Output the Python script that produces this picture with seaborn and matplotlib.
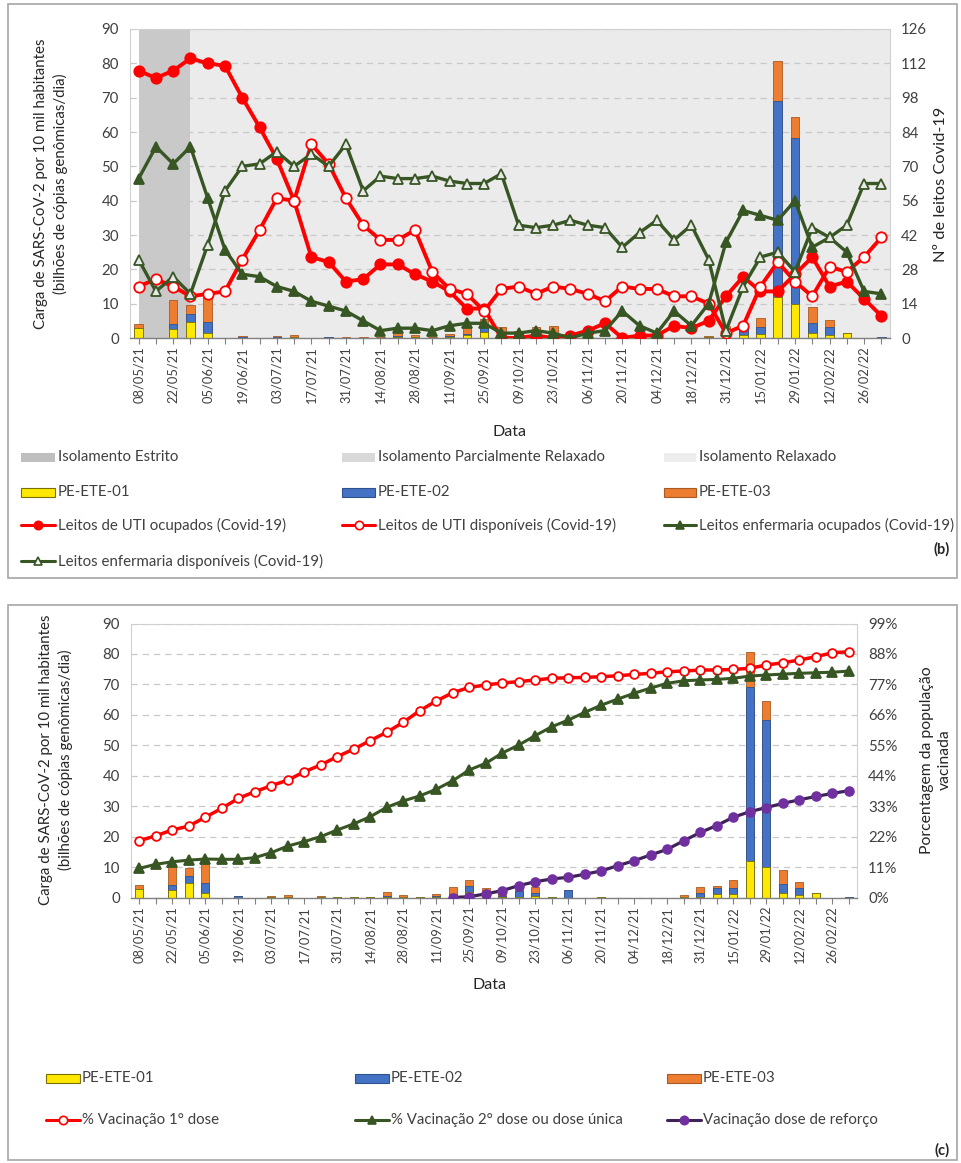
import numpy as np
import pandas as pd
import seaborn as sns
import matplotlib.pyplot as plt
from matplotlib.patches import Rectangle
from matplotlib.lines import Line2D

# ---------------- data ----------------
# weekly samples, label shown every second week
tick_labels = ['08/05/21', '22/05/21', '05/06/21', '19/06/21', '03/07/21', '17/07/21',
               '31/07/21', '14/08/21', '28/08/21', '11/09/21', '25/09/21', '09/10/21',
               '23/10/21', '06/11/21', '20/11/21', '04/12/21', '18/12/21', '31/12/21',
               '15/01/22', '29/01/22', '12/02/22', '26/02/22']

# SARS-CoV-2 load (bilhões de cópias genômicas/dia por 10 mil hab.)
ete01 = [2.8, 0, 2.6, 4.8, 1.5, 0, 0, 0, 0.1, 0.2, 0, 0.1, 0.1, 0.1, 0.1, 0.3, 0.2, 0.1, 0.3, 0.8,
         1.8, 0.3, 0.2, 0.3, 0.5, 0.1, 0, 0, 0.2, 0, 0, 0, 0, 0.2, 0.3, 1.0, 1.2, 12.0, 10.0, 1.5,
         0.9, 1.4, 0, 0]
ete02 = [0, 0, 1.4, 2.2, 3.3, 0, 0.4, 0, 0.1, 0.1, 0, 0.1, 0, 0, 0, 0.2, 0, 0, 0.2, 0.5,
         2.0, 0.2, 0.3, 1.8, 1.0, 0, 2.3, 0, 0, 0, 0, 0, 0, 0.1, 1.2, 2.0, 2.0, 57.0, 48.3, 2.8,
         2.2, 0, 0, 0.3]
ete03 = [1.2, 0, 7.0, 2.7, 7.2, 0, 0.1, 0, 0.3, 0.5, 0, 0.2, 0.1, 0.1, 0.2, 1.3, 0.7, 0.2, 0.6, 2.0,
         1.8, 2.6, 1.5, 1.1, 2.1, 0.1, 0.2, 0, 0, 0, 0, 0, 0, 0.4, 2.0, 0.8, 2.6, 11.7, 6.2, 4.6,
         2.0, 0.2, 0, 0]

# Covid-19 beds (right axis of panel b)
uti_ocup = [109, 106, 109, 114, 112, 111, 98, 86, 73, 56, 33, 31, 23, 24, 30, 30, 26, 23, 19, 12,
            12, 0, 0, 1, 0, 1, 3, 6, 0, 1, 1, 5, 4, 7, 17, 25, 19, 19, 26, 33,
            21, 23, 16, 9]
uti_disp = [21, 24, 21, 17, 18, 19, 32, 44, 57, 56, 79, 71, 57, 46, 40, 40, 44, 27, 20, 18,
            11, 20, 21, 18, 21, 20, 18, 15, 21, 20, 20, 17, 17, 14, 2, 5, 21, 31, 23, 17,
            29, 27, 33, 41]
enf_ocup = [65, 78, 71, 78, 57, 36, 26, 25, 21, 19, 15, 13, 11, 7, 3, 4, 4, 3, 5, 6,
            6, 2, 2, 3, 2, 0, 2, 3, 11, 5, 2, 11, 5, 14, 39, 52, 50, 48, 56, 37,
            41, 35, 19, 18]
enf_disp = [32, 19, 25, 18, 38, 60, 70, 71, 76, 70, 75, 70, 79, 60, 66, 65, 65, 66, 64, 63,
            63, 67, 46, 45, 46, 48, 46, 45, 37, 43, 48, 40, 46, 32, 3, 21, 33, 35, 27, 45,
            41, 46, 63, 63]

# vaccination coverage, % of population (right axis of panel c)
vac_dose1 = [20.5, 22.3, 24.4, 25.8, 29.0, 32.2, 35.8, 38.2, 40.4, 42.4, 45.4, 47.9, 50.9, 53.6,
             56.7, 59.7, 63.3, 67.5, 71.0, 74.0, 75.9, 76.8, 77.5, 78.0, 78.6, 79.2, 79.4, 79.5,
             79.8, 80.1, 80.6, 81.0, 81.6, 81.8, 82.2, 82.2, 82.4, 82.8, 84.0, 84.8, 85.8, 87.0,
             88.4, 88.8]
vac_dose2 = [10.5, 12.0, 12.9, 13.5, 13.9, 13.8, 13.8, 14.4, 16.2, 18.6, 20.2, 22.0, 24.4, 26.6,
             29.2, 32.6, 34.9, 36.7, 39.1, 42.2, 46.1, 48.5, 52.2, 55.1, 58.5, 61.7, 64.1, 66.9,
             69.5, 71.7, 73.8, 75.7, 77.4, 78.3, 78.6, 78.8, 79.2, 80.0, 80.4, 80.7, 81.0, 81.2,
             81.4, 81.8]
reforco_inicio = 19  # booster series starts at this week
vac_reforco = [0.0, 0.3, 1.3, 2.5, 4.3, 5.7, 6.7, 7.3, 8.4, 9.6, 11.5, 13.3, 15.4, 17.4, 20.5,
               23.5, 26.0, 29.0, 31.0, 32.5, 34.0, 35.3, 36.5, 37.6, 38.6]

# ---------------- style ----------------
sns.set_theme(style='white')
plt.rcParams['font.family'] = ['Lato', 'DejaVu Sans']

RED = '#ff0000'
GREEN = '#375623'
PURPLE = '#7030a0'
PURPLE_LINE = '#3f2257'
YELLOW, YELLOW_EC = '#ffe800', '#7a7000'
BLUE, BLUE_EC = '#4472c4', '#2f528f'
ORANGE, ORANGE_EC = '#ed7d31', '#a85a23'
TXT = '#404040'
GRID = '#c8c8c8'

W, H = 961, 1163
n = len(ete01)
semanas = np.arange(n)

fig = plt.figure(figsize=(W / 100, H / 100), dpi=100)
ov = fig.add_axes([0, 0, 1, 1])
ov.set_xlim(0, W)
ov.set_ylim(H, 0)
ov.axis('off')
ov.patch.set_visible(False)


def axes_px(x0, y0, x1, y1):
    return fig.add_axes([x0 / W, 1 - y1 / H, (x1 - x0) / W, (y1 - y0) / H])


def stacked_bars(ax):
    df = pd.DataFrame({'semana': semanas, 'ete01': ete01, 'ete02': ete02, 'ete03': ete03})
    df['ate02'] = df['ete01'] + df['ete02']
    df['total'] = df['ate02'] + df['ete03']
    for col, fc, ec in [('total', ORANGE, ORANGE_EC), ('ate02', BLUE, BLUE_EC),
                        ('ete01', YELLOW, YELLOW_EC)]:
        sns.barplot(data=df, x='semana', y=col, color=fc, edgecolor=ec, linewidth=0.6,
                    width=0.5, saturation=1, errorbar=None, ax=ax)


def serie(ax, y, color, marker, mfc, ms, lw, mec=None, start=0):
    x = np.arange(start, start + len(y))
    sns.lineplot(x=x, y=y, ax=ax, color=color, marker=marker, markersize=ms,
                 markerfacecolor=mfc, markeredgecolor=mec or color, markeredgewidth=1.3,
                 linewidth=lw, legend=False)


def style_left(ax):
    ax.set_ylim(0, 90)
    ax.set_yticks(range(0, 91, 10))
    ax.set_xlim(-0.5, n - 0.5)
    ax.set_xticks(semanas)
    labels = [tick_labels[i // 2] if i % 2 == 0 else '' for i in semanas]
    ax.set_xticklabels(labels, rotation=90, fontsize=9.3, color=TXT)
    ax.tick_params(axis='x', length=4, width=0.8, color='#808080', pad=2, bottom=True)
    ax.tick_params(axis='y', length=0, labelsize=10.8, labelcolor=TXT, pad=8)
    ax.yaxis.grid(True, color=GRID, linestyle=(0, (5, 4)), linewidth=0.9)
    ax.set_axisbelow(True)
    ax.set_xlabel('')
    ax.set_ylabel('')
    for s in ['left', 'top', 'right']:
        ax.spines[s].set_color('#d0d0d0')
        ax.spines[s].set_linewidth(0.8)
    ax.spines['bottom'].set_color('#808080')
    ax.spines['bottom'].set_linewidth(1.0)


def style_right(ax, top, step, fmt):
    ax.set_ylim(0, top)
    ticks = list(range(0, top + 1, step))
    ax.set_yticks(ticks)
    ax.set_yticklabels([fmt.format(t) for t in ticks])
    ax.tick_params(axis='y', length=0, labelsize=10.8, labelcolor=TXT, pad=8)
    ax.set_ylabel('')
    ax.grid(False)
    for s in ax.spines.values():
        s.set_visible(False)


# ---------------- panel (b) ----------------
ax1 = axes_px(130, 29, 890, 338)
ax1.axvspan(0, 3, color='#c9c9c9', zorder=0, lw=0)
ax1.axvspan(3, n - 0.5, color='#ebebeb', zorder=0, lw=0)
stacked_bars(ax1)
style_left(ax1)

ax2 = ax1.twinx()
serie(ax2, uti_ocup, RED, 'o', RED, 7.5, 2.8)
serie(ax2, uti_disp, RED, 'o', 'white', 7.5, 2.8)
serie(ax2, enf_ocup, GREEN, '^', GREEN, 7.5, 2.4)
serie(ax2, enf_disp, GREEN, '^', '#e8e8e8', 7.5, 2.4)
style_right(ax2, 126, 14, '{}')
ax1.set_xlim(-0.5, n - 0.5)

ov.text(51, 184, 'Carga de SARS-CoV-2 por 10 mil habitantes\n(bilhões de cópias genômicas/dia)',
        rotation=90, ha='center', va='center', fontsize=10.8, linespacing=1.35, color='#262626')
ov.text(941, 184, 'Nº de leitos Covid-19', rotation=90, ha='center', va='center',
        fontsize=11.8, color='#262626')
ov.text(510, 432, 'Data', ha='center', va='center', fontsize=11.5, color='#262626')

# ---------------- panel (c) ----------------
ax3 = axes_px(131, 623.5, 857, 897.5)
stacked_bars(ax3)
style_left(ax3)

ax4 = ax3.twinx()
serie(ax4, vac_dose1, RED, 'o', 'white', 6.3, 2.5)
serie(ax4, vac_dose2, GREEN, '^', GREEN, 6.5, 2.2)
serie(ax4, vac_reforco, PURPLE_LINE, 'o', PURPLE, 6.3, 2.3, mec=PURPLE, start=reforco_inicio)
style_right(ax4, 99, 11, '{}%')
ax3.set_xlim(-0.5, n - 0.5)

ov.text(56, 760, 'Carga de SARS-CoV-2 por 10 mil habitantes\n(bilhões de cópias genômicas/dia)',
        rotation=90, ha='center', va='center', fontsize=10.8, linespacing=1.35, color='#262626')
ov.text(936, 760, 'Porcentagem da população\nvacinada', rotation=90, ha='center', va='center',
        fontsize=11.3, linespacing=1.3, color='#262626')
ov.text(490, 985, 'Data', ha='center', va='center', fontsize=11.5, color='#262626')

# ---------------- panel frames ----------------
ov.add_patch(Rectangle((8, 4), 949, 574, fill=False, ec='#a6a6a6', lw=1.2))
ov.add_patch(Rectangle((8, 605), 949, 555, fill=False, ec='#a6a6a6', lw=1.2))


# ---------------- legends ----------------
def leg_patch(x0, x1, y, fc, ec, label, tx):
    ov.add_patch(Rectangle((x0, y - 4.5), x1 - x0, 9, fc=fc, ec=ec, lw=0.8))
    ov.text(tx, y, label, ha='left', va='center', fontsize=10.8, color=TXT)


def leg_line(x0, x1, y, color, marker, mfc, mec, label, tx, ms=6):
    ov.add_line(Line2D([x0, x1], [y, y], color=color, lw=2.2))
    ov.add_line(Line2D([(x0 + x1) / 2], [y], marker=marker, color=mec, mfc=mfc, mec=mec,
                       ms=ms, mew=1.2))
    ov.text(tx, y, label, ha='left', va='center', fontsize=10.8, color=TXT)


cols_b = [(21, 55, 58), (342, 375, 378), (664, 696, 699)]
leg_patch(*cols_b[0][:2], 457, '#bfbfbf', 'none', 'Isolamento Estrito', cols_b[0][2])
leg_patch(*cols_b[1][:2], 457, '#d9d9d9', 'none', 'Isolamento Parcialmente Relaxado', cols_b[1][2])
leg_patch(*cols_b[2][:2], 457, '#ededed', 'none', 'Isolamento Relaxado', cols_b[2][2])
leg_patch(*cols_b[0][:2], 492, YELLOW, YELLOW_EC, 'PE-ETE-01', cols_b[0][2])
leg_patch(*cols_b[1][:2], 492, BLUE, BLUE_EC, 'PE-ETE-02', cols_b[1][2])
leg_patch(*cols_b[2][:2], 492, ORANGE, ORANGE_EC, 'PE-ETE-03', cols_b[2][2])
leg_line(*cols_b[0][:2], 525, RED, 'o', RED, RED, 'Leitos de UTI ocupados (Covid-19)', cols_b[0][2])
leg_line(*cols_b[1][:2], 525, RED, 'o', 'white', RED, 'Leitos de UTI disponíveis (Covid-19)', cols_b[1][2])
leg_line(*cols_b[2][:2], 525, GREEN, '^', GREEN, GREEN, 'Leitos enfermaria ocupados (Covid-19)', cols_b[2][2])
leg_line(*cols_b[0][:2], 561, GREEN, '^', 'white', GREEN, 'Leitos enfermaria disponíveis (Covid-19)', cols_b[0][2])
ov.text(942, 549, '(b)', ha='center', va='center', fontsize=10.5, fontweight='bold', color='#262626')

cols_c = [(46, 80, 82), (355, 389, 391), (667, 701, 703)]
leg_patch(*cols_c[0][:2], 1078, YELLOW, YELLOW_EC, 'PE-ETE-01', cols_c[0][2])
leg_patch(*cols_c[1][:2], 1078, BLUE, BLUE_EC, 'PE-ETE-02', cols_c[1][2])
leg_patch(*cols_c[2][:2], 1078, ORANGE, ORANGE_EC, 'PE-ETE-03', cols_c[2][2])
leg_line(*cols_c[0][:2], 1120, RED, 'o', 'white', RED, '% Vacinação 1° dose', cols_c[0][2])
leg_line(*cols_c[1][:2], 1120, GREEN, '^', GREEN, GREEN, '% Vacinação 2° dose ou dose única', cols_c[1][2])
leg_line(*cols_c[2][:2], 1120, PURPLE_LINE, 'o', PURPLE, PURPLE, 'Vacinação dose de reforço', cols_c[2][2])
ov.text(942, 1150, '(c)', ha='center', va='center', fontsize=10.5, fontweight='bold', color='#262626')

fig.savefig('out.png', dpi=100)
